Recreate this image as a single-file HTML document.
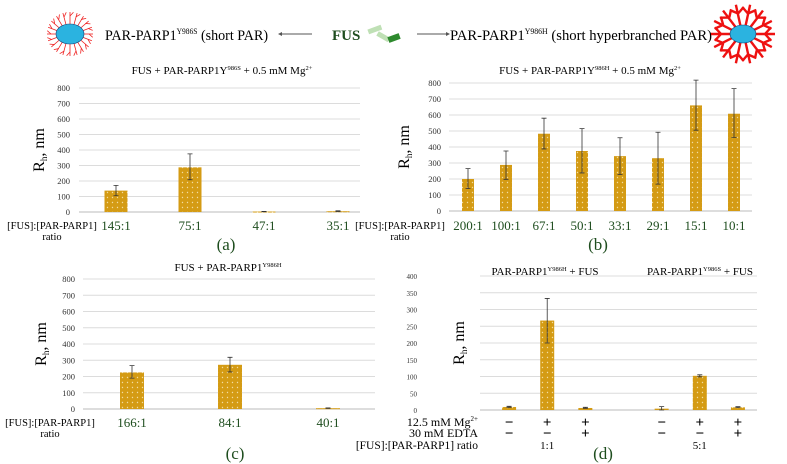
<!DOCTYPE html>
<html><head><meta charset="utf-8"><style>
body{margin:0;background:#fff;}
svg{display:block;font-family:"Liberation Serif",serif;}
</style></head><body>
<svg id="fig" width="787" height="464" viewBox="0 0 787 464">
<defs>
<pattern id="dots" width="5" height="5" patternUnits="userSpaceOnUse"><rect width="5" height="5" fill="#d49b14"/><circle cx="2.5" cy="2.5" r="0.7" fill="#f3dca0"/></pattern>
</defs>
<g>
<g>
<g stroke="#e22" stroke-width="0.8" id="spk1"></g>
<ellipse cx="70" cy="34" rx="14" ry="10" fill="#2bb3e0" stroke="#147" stroke-width="0.6"/>
</g>
<text x="105" y="40" font-size="15" textLength="163" lengthAdjust="spacingAndGlyphs">PAR-PARP1<tspan font-size="8" dy="-6">Y986S</tspan><tspan dy="6"> (short PAR)</tspan></text>
<line x1="312" y1="34" x2="281" y2="34" stroke="#555" stroke-width="1"/>
<path d="M278,34 l4,-2 v4z" fill="#555"/>
<text x="332" y="40" font-size="15" fill="#1e4d1e" font-weight="bold">FUS</text>
<g>
<rect x="368" y="27" width="14" height="5" fill="#bfe0b5" transform="rotate(-20 375 30)"/>
<rect x="377" y="34" width="13" height="5" fill="#bfe0b5" transform="rotate(30 383 36)"/>
<rect x="388" y="35" width="12" height="6" fill="#2e8a2e" transform="rotate(-20 394 38)"/>
</g>
<line x1="417" y1="34" x2="446" y2="34" stroke="#555" stroke-width="1"/>
<path d="M450,34 l-4,-2 v4z" fill="#555"/>
<text x="450" y="40" font-size="15" textLength="262" lengthAdjust="spacingAndGlyphs">PAR-PARP1<tspan font-size="8" dy="-6">Y986H</tspan><tspan dy="6"> (short hyperbranched PAR)</tspan></text>
<g>
<g stroke="#e11" stroke-width="2.4" id="spk2"></g>
<ellipse cx="743" cy="34" rx="13" ry="9" fill="#2bb3e0" stroke="#147" stroke-width="0.6"/>
</g>
</g>
<g id="charts"></g>
</svg>
<script>
// ---- data panel (a)
const catsA = ["145:1","75:1","47:1","35:1"];
const valsA = [138, 288, 3, 5];
const errLoA = [105, 208, 2, 3];
const errHiA = [172, 375, 4, 8];
// ---- panel (b)
const catsB = ["200:1","100:1","67:1","50:1","33:1","29:1","15:1","10:1"];
const valsB = [200, 288, 483, 375, 343, 330, 660, 608];
const errLoB = [140, 198, 388, 238, 228, 168, 505, 460];
const errHiB = [265, 375, 580, 515, 458, 492, 818, 765];
// ---- panel (c)
const catsC = ["166:1","84:1","40:1"];
const valsC = [225, 272, 5];
const errLoC = [190, 228, 4];
const errHiC = [267, 318, 7];
// ---- panel (d)
const valsD = [9, 267, 6, null, 4, 102, 8];
const errLoD = [8, 200, 5, null, 0, 99, 7];
const errHiD = [11, 333, 8, null, 10, 105, 10];
const mgD = ["\u2212","+","+","", "\u2212","+","+"];
const edtaD = ["\u2212","\u2212","+","", "\u2212","\u2212","+"];
const ticks800 = [0,100,200,300,400,500,600,700,800];
const ticks400 = [0,50,100,150,200,250,300,350,400];

const NS="http://www.w3.org/2000/svg";
const root=document.getElementById('charts');
function mk(tag,attrs,parent,text){const e=document.createElementNS(NS,tag);for(const k in attrs)e.setAttribute(k,attrs[k]);if(text!==undefined)e.textContent=text;(parent||root).appendChild(e);return e;}

// icons
(function(){const g1=document.getElementById('spk1');for(let i=0;i<20;i++){const a=i/20*Math.PI*2;const c=Math.cos(a),s=Math.sin(a);mk('line',{x1:70+13*c,y1:34+10*s,x2:70+23*c,y2:34+22*s},g1);mk('line',{x1:70+19*c,y1:34+18*s,x2:70+23*Math.cos(a+0.15),y2:34+22*Math.sin(a+0.15)},g1);}
const g2=document.getElementById('spk2');for(let i=0;i<14;i++){const a=i/14*Math.PI*2;const c=Math.cos(a),s=Math.sin(a);mk('line',{x1:743+12*c,y1:34+9*s,x2:743+32*c,y2:34+30*s},g2);mk('line',{x1:743+22*c,y1:34+21*s,x2:743+29*Math.cos(a+0.25),y2:34+27*Math.sin(a+0.25)},g2);mk('line',{x1:743+22*c,y1:34+21*s,x2:743+29*Math.cos(a-0.25),y2:34+27*Math.sin(a-0.25)},g2);}})();

function panel(o){
  const g=mk('g',{});
  
  
  const y=v=>o.y0-(v/o.max)*(o.y0-o.y1);
  const bw=(o.x1-o.x0)/o.n;
  const cx=i=>o.x0+bw*(i+0.5);
  o.ticks.forEach(t=>{
    const l=mk('line',{x1:o.gx0,x2:o.gx1,y1:y(t),y2:y(t),stroke:t===0?'#bbb':'#dcdcdc','stroke-width':1},g);
    
    
    const tx=mk('text',{x:o.tx,y:y(t)+3,'font-size':o.tfs||8.5,'text-anchor':'end',fill:'#333'},g,t);
    
    
  });
  o.vals.forEach((v,i)=>{
    if(v===null)return;
    const b=mk('rect',{x:cx(i)-o.bar/2,y:y(v),width:o.bar,height:Math.max(1,y(0)-y(v)),fill:'url(#dots)'},g);
    
    
    const e=mk('path',{d:`M${cx(i)},${y(o.lo[i])}V${y(o.hi[i])}M${cx(i)-2.5},${y(o.lo[i])}h5M${cx(i)-2.5},${y(o.hi[i])}h5`,stroke:'#333','stroke-width':0.8,fill:'none'},g);
    
    
  });
  if(o.cats) o.cats.forEach((c,i)=>{
    const t=mk('text',{x:cx(i),y:o.ly,'font-size':13,'text-anchor':'middle',fill:'#1e4d1e'},g,c);
    
    
  });
  const yt=mk('text',{transform:`translate(${o.ytx},${(o.y0+o.y1)/2}) rotate(-90)`,'font-size':16,'text-anchor':'middle'},g);
  
  
  yt.innerHTML='R<tspan font-size="9" dy="3">h</tspan><tspan dy="-3">, nm</tspan>';
  return {g,cx,y};
}
function txt(x,yy,s,size,anchor,name,fill,html){const t=mk('text',{x:x,y:yy,'font-size':size,'text-anchor':anchor||'start',fill:fill||'#000'});
  if(html)t.innerHTML=s;else t.textContent=s;
  
  return t;}

// (a)
panel({name:'chart-a',x0:79,x1:375,gx0:79,gx1:360,y0:212,y1:88,max:800,ticks:ticks800,tx:70,n:4,bar:23,vals:valsA,lo:errLoA,hi:errHiA,cats:catsA,ly:230,ytx:44});
txt(222,74,'FUS  + PAR-PARP1Y<tspan font-size="6.5" dy="-4">986S</tspan><tspan dy="4"> + 0.5 mM Mg</tspan><tspan font-size="6.5" dy="-4">2+</tspan>',11,'middle','chart-a-title','#000',true);
txt(52,229,'[FUS]:[PAR-PARP1]',10.5,'middle','x-axis-title-a');
txt(52,240,'ratio',10.5,'middle','x-axis-title-a-2');
txt(226,250,'(a)',17,'middle','panel-label-a','#1e4d1e');
// (b)
panel({name:'chart-b',x0:449,x1:753,gx0:449,gx1:752,y0:211,y1:83,max:800,ticks:ticks800,tx:441,n:8,bar:12,vals:valsB,lo:errLoB,hi:errHiB,cats:catsB,ly:230,ytx:409});
txt(590,74,'FUS + PAR-PARP1Y<tspan font-size="6.5" dy="-4">986H</tspan><tspan dy="4"> + 0.5 mM Mg</tspan><tspan font-size="6.5" dy="-4">2+</tspan>',11,'middle','chart-b-title','#000',true);
txt(400,229,'[FUS]:[PAR-PARP1]',10.5,'middle','x-axis-title-b');
txt(400,240,'ratio',10.5,'middle','x-axis-title-b-2');
txt(598,250,'(b)',17,'middle','panel-label-b','#1e4d1e');
// (c)
panel({name:'chart-c',x0:83,x1:377,gx0:83,gx1:375,y0:409,y1:279,max:800,ticks:ticks800,tx:75,n:3,bar:24,vals:valsC,lo:errLoC,hi:errHiC,cats:catsC,ly:427,ytx:46});
txt(228,271,'FUS  + PAR-PARP1<tspan font-size="6.5" dy="-4">Y986H</tspan>',11,'middle','chart-c-title','#000',true);
txt(50,426,'[FUS]:[PAR-PARP1]',10.5,'middle','x-axis-title-c');
txt(50,437,'ratio',10.5,'middle','x-axis-title-c-2');
txt(235,459,'(c)',17,'middle','panel-label-c','#1e4d1e');
// (d)
const pd=panel({name:'chart-d',x0:490,x1:757,gx0:480,gx1:757,y0:410,y1:276,max:400,ticks:ticks400,tx:417,tfs:7,n:7,bar:14,vals:valsD,lo:errLoD,hi:errHiD,cats:null,ytx:464});
txt(545,275,'PAR-PARP1<tspan font-size="6.5" dy="-4">Y986H</tspan><tspan dy="4"> + FUS</tspan>',11,'middle','chart-d-title-left','#000',true);
txt(700,275,'PAR-PARP1<tspan font-size="6.5" dy="-4">Y986S</tspan><tspan dy="4"> + FUS</tspan>',11,'middle','chart-d-title-right','#000',true);
txt(478,426,'12.5 mM Mg<tspan font-size="7" dy="-5">2+</tspan>',12,'end','mg-row-label','#000',true);
txt(478,437,'30 mM EDTA',12,'end','edta-row-label');
txt(478,449,'[FUS]:[PAR-PARP1] ratio',11.5,'end','ratio-row-label');
mgD.forEach((s,i)=>{txt(pd.cx(i),427,s,15,'middle','mg-sign').setAttribute('font-weight','bold');});
edtaD.forEach((s,i)=>{txt(pd.cx(i),438,s,15,'middle','edta-sign').setAttribute('font-weight','bold');});
txt(pd.cx(1),449,'1:1',11,'middle','ratio-1-1');
txt(pd.cx(5),449,'5:1',11,'middle','ratio-5-1');
txt(603,459,'(d)',17,'middle','panel-label-d','#1e4d1e');
</script>
</body></html>
